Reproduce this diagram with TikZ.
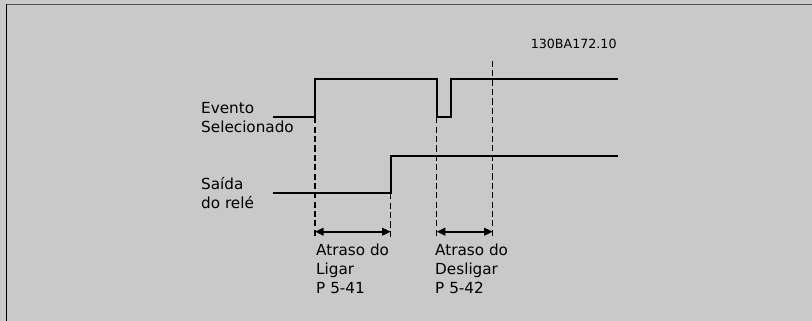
\documentclass[tikz,border=0pt]{standalone}
\usepackage{fontspec}
\setmainfont{DejaVu Sans}
\usepackage{tikz}
\usetikzlibrary{arrows.meta,positioning,calc}
\definecolor{panelgray}{HTML}{C9C9C9}
\definecolor{edgegray}{HTML}{505050}
\tikzset{
  signalline/.style={line width=1.4pt,line join=miter},
  guideline/.style={line width=0.9pt,dash pattern=on 5.2pt off 2.8pt},
  delayarrow/.style={{Triangle[length=7.4pt,width=6.6pt]}-{Triangle[length=7.4pt,width=6.6pt]},line width=1.5pt},
  signallabel/.style={font=\fontsize{13}{16.2}\selectfont,align=left,anchor=west,inner sep=0pt},
  codelabel/.style={font=\fontsize{10.8}{13}\selectfont,inner sep=0pt}
}

\begin{document}
\begin{tikzpicture}[x=0.03cm,y=-0.03cm]
  \fill[panelgray] (0,0) rectangle (812,321);
  \useasboundingbox (0,0) rectangle (812,321);
  \draw[edgegray,line width=1.6pt] (6,4.5) -- (812,4.5);
  \draw[black,line width=1.7pt] (6.5,4) -- (6.5,321);

  \node[codelabel] (code) at (573.7,44) {130BA172.10};
  \node[signallabel] (evento) at (201,117.3) {Evento\\Selecionado};
  \node[signallabel] (saida) at (201,193.5) {Saída\\do relé};

  \coordinate (evstart) at (272.7,117.3);
  \coordinate (evup) at (315,117.3);
  \coordinate (evdown) at (436.7,117.3);
  \coordinate (evback) at (451,117.3);
  \coordinate (evend) at (618,79.3);
  \coordinate (rlstart) at (272.7,193.3);
  \coordinate (rlup) at (390.7,193.3);
  \coordinate (rlend) at (618,155.7);
  \coordinate (offmark) at (492.7,61);

  \draw[signalline] (evstart) -- (evup) |- (evdown |- evend) -- (evdown)
    -- (evback) -- (evback |- evend) -- (evend);
  \draw[signalline] (rlstart) -- (rlup) -- (rlup |- rlend) -- (rlend);

  \coordinate (onA) at (315,231.7);
  \coordinate (onB) at (390.7,231.7);
  \coordinate (offA) at (436.7,231.7);
  \coordinate (offB) at (492.7,231.7);

  \draw[guideline] (evup) -- ($(onA)+(0,5)$);
  \draw[guideline] (rlup) -- ($(onB)+(0,5)$);
  \draw[guideline] (evdown) -- ($(offA)+(0,5)$);
  \draw[guideline] (offmark) -- ($(offB)+(0,5)$);

  \draw[delayarrow] (onA) -- (onB);
  \draw[delayarrow] (offA) -- (offB);

  \node[signallabel] (ligar) at (316,268.5) {Atraso do\\Ligar\\P 5-41};
  \node[signallabel] (desligar) at (435,268.5) {Atraso do\\Desligar\\P 5-42};
\end{tikzpicture}
\end{document}
